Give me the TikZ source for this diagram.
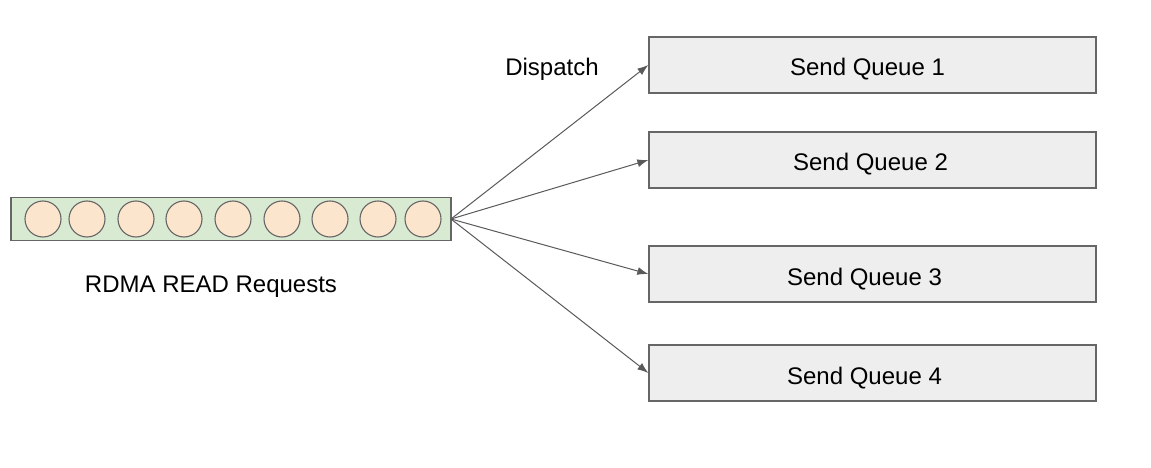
\documentclass[tikz,border=0pt]{standalone}
\usepackage{fontspec}
\setmainfont{Liberation Sans}
\definecolor{qgray}{RGB}{238,238,238}
\definecolor{bgreen}{RGB}{217,234,211}
\definecolor{rpeach}{RGB}{252,229,205}
\definecolor{edgegray}{RGB}{102,102,102}
\definecolor{arrgray}{RGB}{89,89,89}
\usetikzlibrary{arrows.meta,positioning}

\begin{document}
\begin{tikzpicture}[x=1pt, y=-1pt,
  qbox/.style={draw=edgegray, fill=qgray, line width=1.3pt, minimum width=447pt, minimum height=56pt, inner sep=0pt, text height=23pt, text depth=1pt, font=\fontsize{24}{28}\selectfont},
  req/.style={circle, draw=edgegray, fill=rpeach, line width=1.1pt, minimum size=36pt, inner sep=0pt},
  disp/.style={draw=arrgray, line width=1pt, -{Latex[length=11pt,width=8pt]}},
  lbl/.style={font=\fontsize{24}{28}\selectfont}
]
  \useasboundingbox (0,0) rectangle (1151,468);

  %% Request buffer
  \node[draw=edgegray, fill=bgreen, line width=1.6pt, minimum width=440pt, minimum height=43pt, inner sep=0pt] (buf) at (231,219) {};
  \foreach \x [count=\i] in {43,87,136,184,233,282,330,378,423}
    \node[req] (r\i) at (\x,219) {};
  \coordinate (src) at (451,219);
  \node[lbl] (reqlbl) at (211,287) {RDMA READ Requests};

  %% Send queues
  \node[qbox] (q1) at (872.5,65) {\hspace*{-10pt}Send Queue 1};
  \node[qbox] (q2) at (872.5,160) {\hspace*{-4pt}Send Queue 2};
  \node[qbox] (q3) at (872.5,274) {\hspace*{-16pt}Send Queue 3};
  \node[qbox] (q4) at (872.5,373) {\hspace*{-16pt}Send Queue 4};
  \node[lbl] (displbl) at (552,69) {Dispatch};

  %% Dispatch arrows
  \foreach \q in {q1,q2,q3,q4}
    \draw[disp] (src) -- (\q.west);
\end{tikzpicture}
\end{document}
